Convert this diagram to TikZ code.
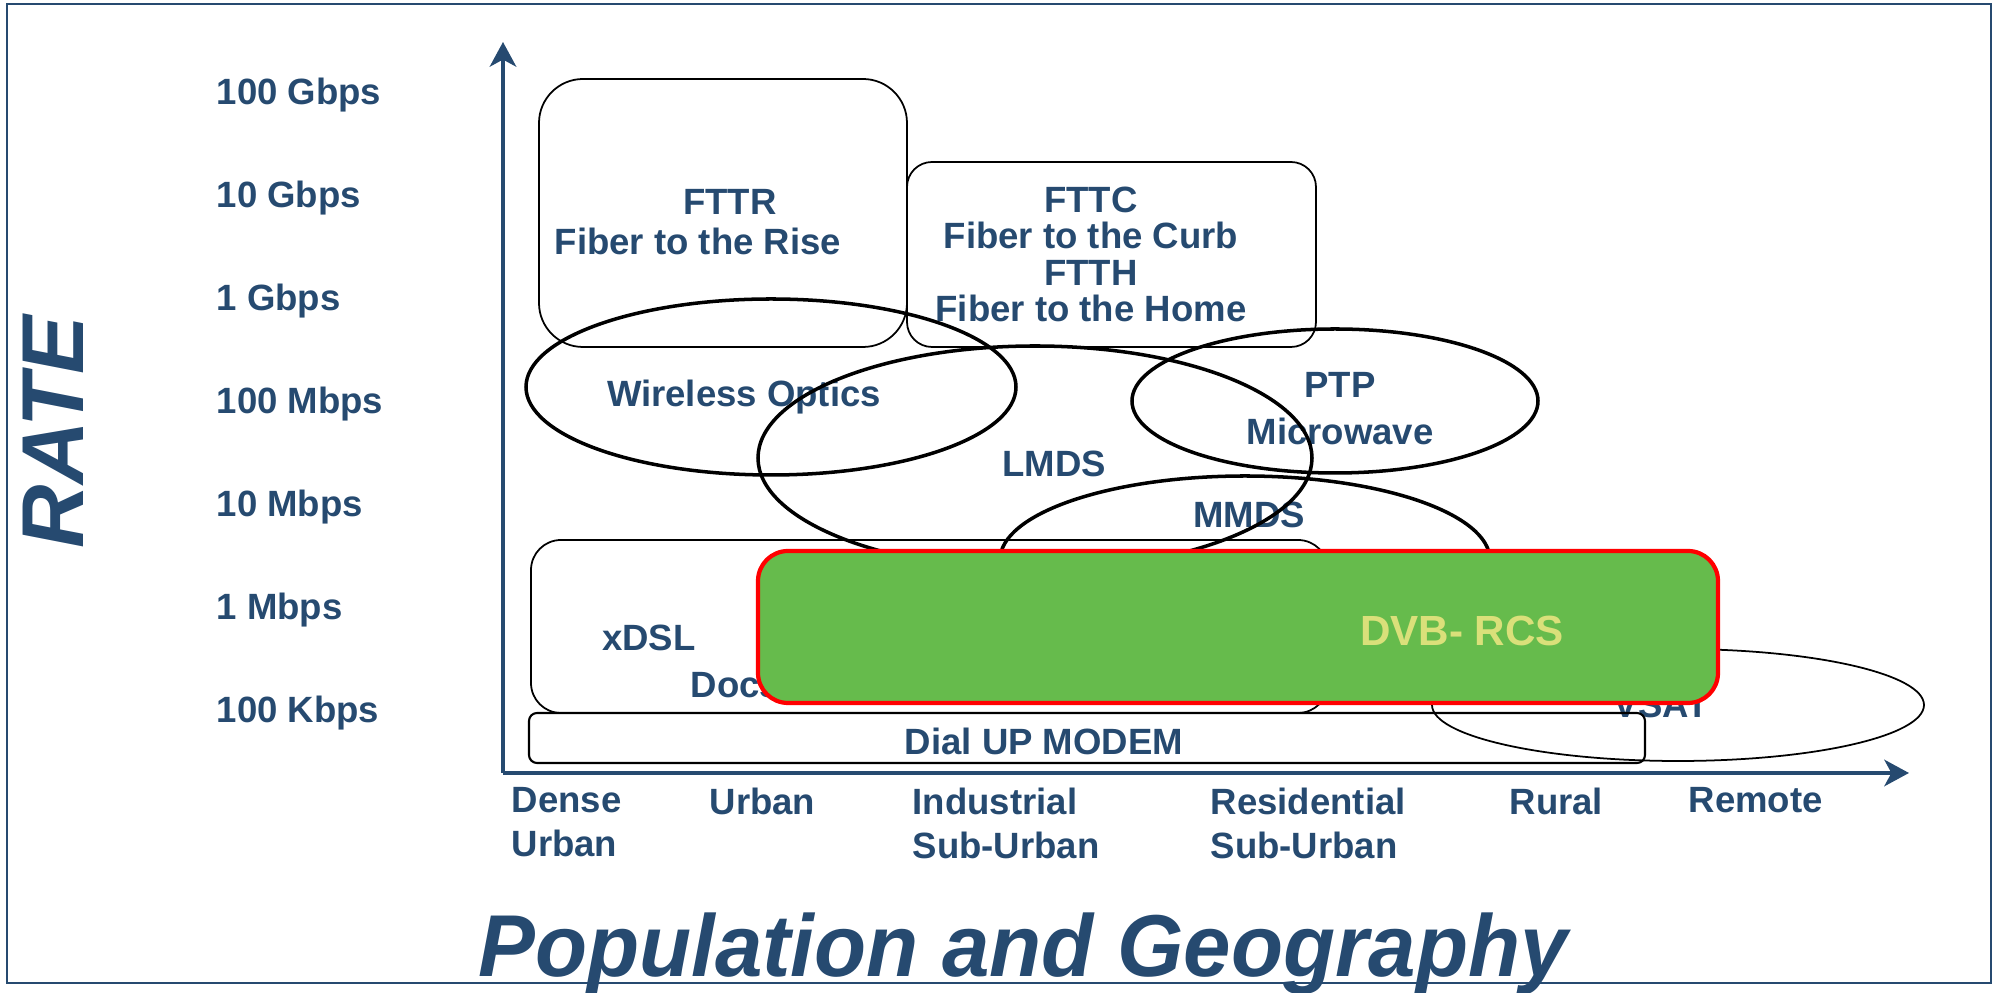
\documentclass[tikz,border=0pt]{standalone}
\usepackage{fontspec}
\setmainfont{Liberation Sans}
\usetikzlibrary{shapes.geometric, arrows.meta}
\definecolor{txtblue}{RGB}{38,74,112}
\definecolor{dvbgreen}{RGB}{102,187,76}
\definecolor{dvbyellow}{RGB}{218,224,122}

\begin{document}
\begin{tikzpicture}[lbl/.style={text=txtblue,inner sep=0pt,font=\bfseries\fontsize{10.4}{#1}\selectfont},lbl/.default=12.5,
        areabox/.style={draw,line width=0.5pt,rounded corners=#1,inner sep=0pt},
        areaoval/.style={draw,ellipse,line width=#1,inner sep=0pt},areaoval/.default=1pt,
        axis/.style={txtblue,line width=1.3pt,-{Stealth[length=7pt,width=7.5pt,inset=2pt]}},
        bigtitle/.style={text=txtblue,inner sep=0pt,font=\bfseries\itshape\fontsize{25}{30}\selectfont}]
    \useasboundingbox (0,0) rectangle (19.96,9.93);
    \draw[txtblue,line width=0.6pt] (0.07,0.10) rectangle (19.91,9.89);

    % axes
    \coordinate (origin) at (5.03,2.20);
    \coordinate (ytop) at (5.03,9.51);
    \coordinate (xend) at (19.09,2.20);
    \draw[axis] (origin) -- (ytop);
    \draw[axis] (origin) -- (xend);

    \foreach \rate [count=\i from 0] in {100 Gbps,10 Gbps,1 Gbps,100 Mbps,10 Mbps,1 Mbps,100 Kbps}
        \node[lbl,anchor=base west] (rate\i) at (2.16,8.88-1.03*\i) {\rate};
    \foreach \place/\x [count=\i] in {Dense\\Urban/5.11,Urban/7.09,Industrial\\Sub-Urban/9.12,Residential\\Sub-Urban/12.10,Rural/15.09,Remote/16.88}
        \node[lbl,anchor=north west,align=left] (geo\i) at (\x,2.06) {\place};

    \node[bigtitle,rotate=90] (ratetitle) at (0.535,5.61) {RATE};
    \node[bigtitle,xscale=0.97,anchor=base] (geotitle) at (10.23,0.16) {Population and Geography};

    % labels first, outlines go over them
    \node[lbl=11.4,align=center] (fttrtext) at (6.98,7.705) {\hspace*{0.64cm}FTTR\\Fiber to the Rise};
    \node[lbl=10.4,align=center] (fttctext) at (10.91,7.385) {FTTC\\Fiber to the Curb\\FTTH\\Fiber to the Home};
    \node[lbl=13.4,align=center] (ptptext) at (13.40,5.84) {PTP\\Microwave};
    \node[lbl,anchor=base] (wirelesstext) at (7.44,5.86) {Wireless Optics};
    \node[lbl,anchor=base] (lmdstext) at (10.54,5.16) {LMDS};
    \node[lbl,anchor=base] (mmdstext) at (12.49,4.65) {MMDS};
    \node[lbl,anchor=base] (xdsltext) at (6.49,3.42) {xDSL};
    \node[lbl,anchor=base west] (docsistext) at (6.90,2.95) {Docsis};
    \node[lbl,anchor=base west] (vsattext) at (16.13,2.75) {VSAT};
    \node[lbl,anchor=base] (dialtext) at (10.44,2.38) {Dial UP MODEM};

    \node[areabox=0.44cm,minimum width=3.68cm,minimum height=2.68cm] (fttr) at (7.23,7.80) {};
    \node[areabox=0.25cm,minimum width=4.09cm,minimum height=1.85cm] (fttc) at (11.115,7.385) {};
    \node[areaoval,minimum width=4.90cm,minimum height=1.76cm] (wireless) at (7.71,6.06) {};
    \node[areaoval,minimum width=5.54cm,minimum height=2.24cm] (lmds) at (10.35,5.35) {};
    \node[areaoval,minimum width=4.06cm,minimum height=1.44cm] (ptp) at (13.35,5.92) {};
    \node[areaoval,minimum width=4.90cm,minimum height=1.68cm] (mmds) at (12.45,4.33) {};
    \node[areabox=0.3cm,minimum width=7.97cm,minimum height=1.73cm] (xdsl) at (9.295,3.665) {};
    \node[areabox=0.08cm,line width=0.6pt,minimum width=11.16cm,minimum height=0.50cm] (dial) at (10.87,2.55) {};
    \node[areaoval=0.5pt,minimum width=4.92cm,minimum height=1.12cm] (vsat) at (16.78,2.88) {};

    \node[draw=red,fill=dvbgreen,line width=1.2pt,rounded corners=0.3cm,minimum width=9.6cm,minimum height=1.52cm] (dvbrcs) at (12.38,3.66) {};
    \node[lbl,text=dvbyellow,font=\bfseries\fontsize{12}{14}\selectfont,anchor=base] (dvbtext) at (14.62,3.47) {DVB- RCS};
\end{tikzpicture}
\end{document}
